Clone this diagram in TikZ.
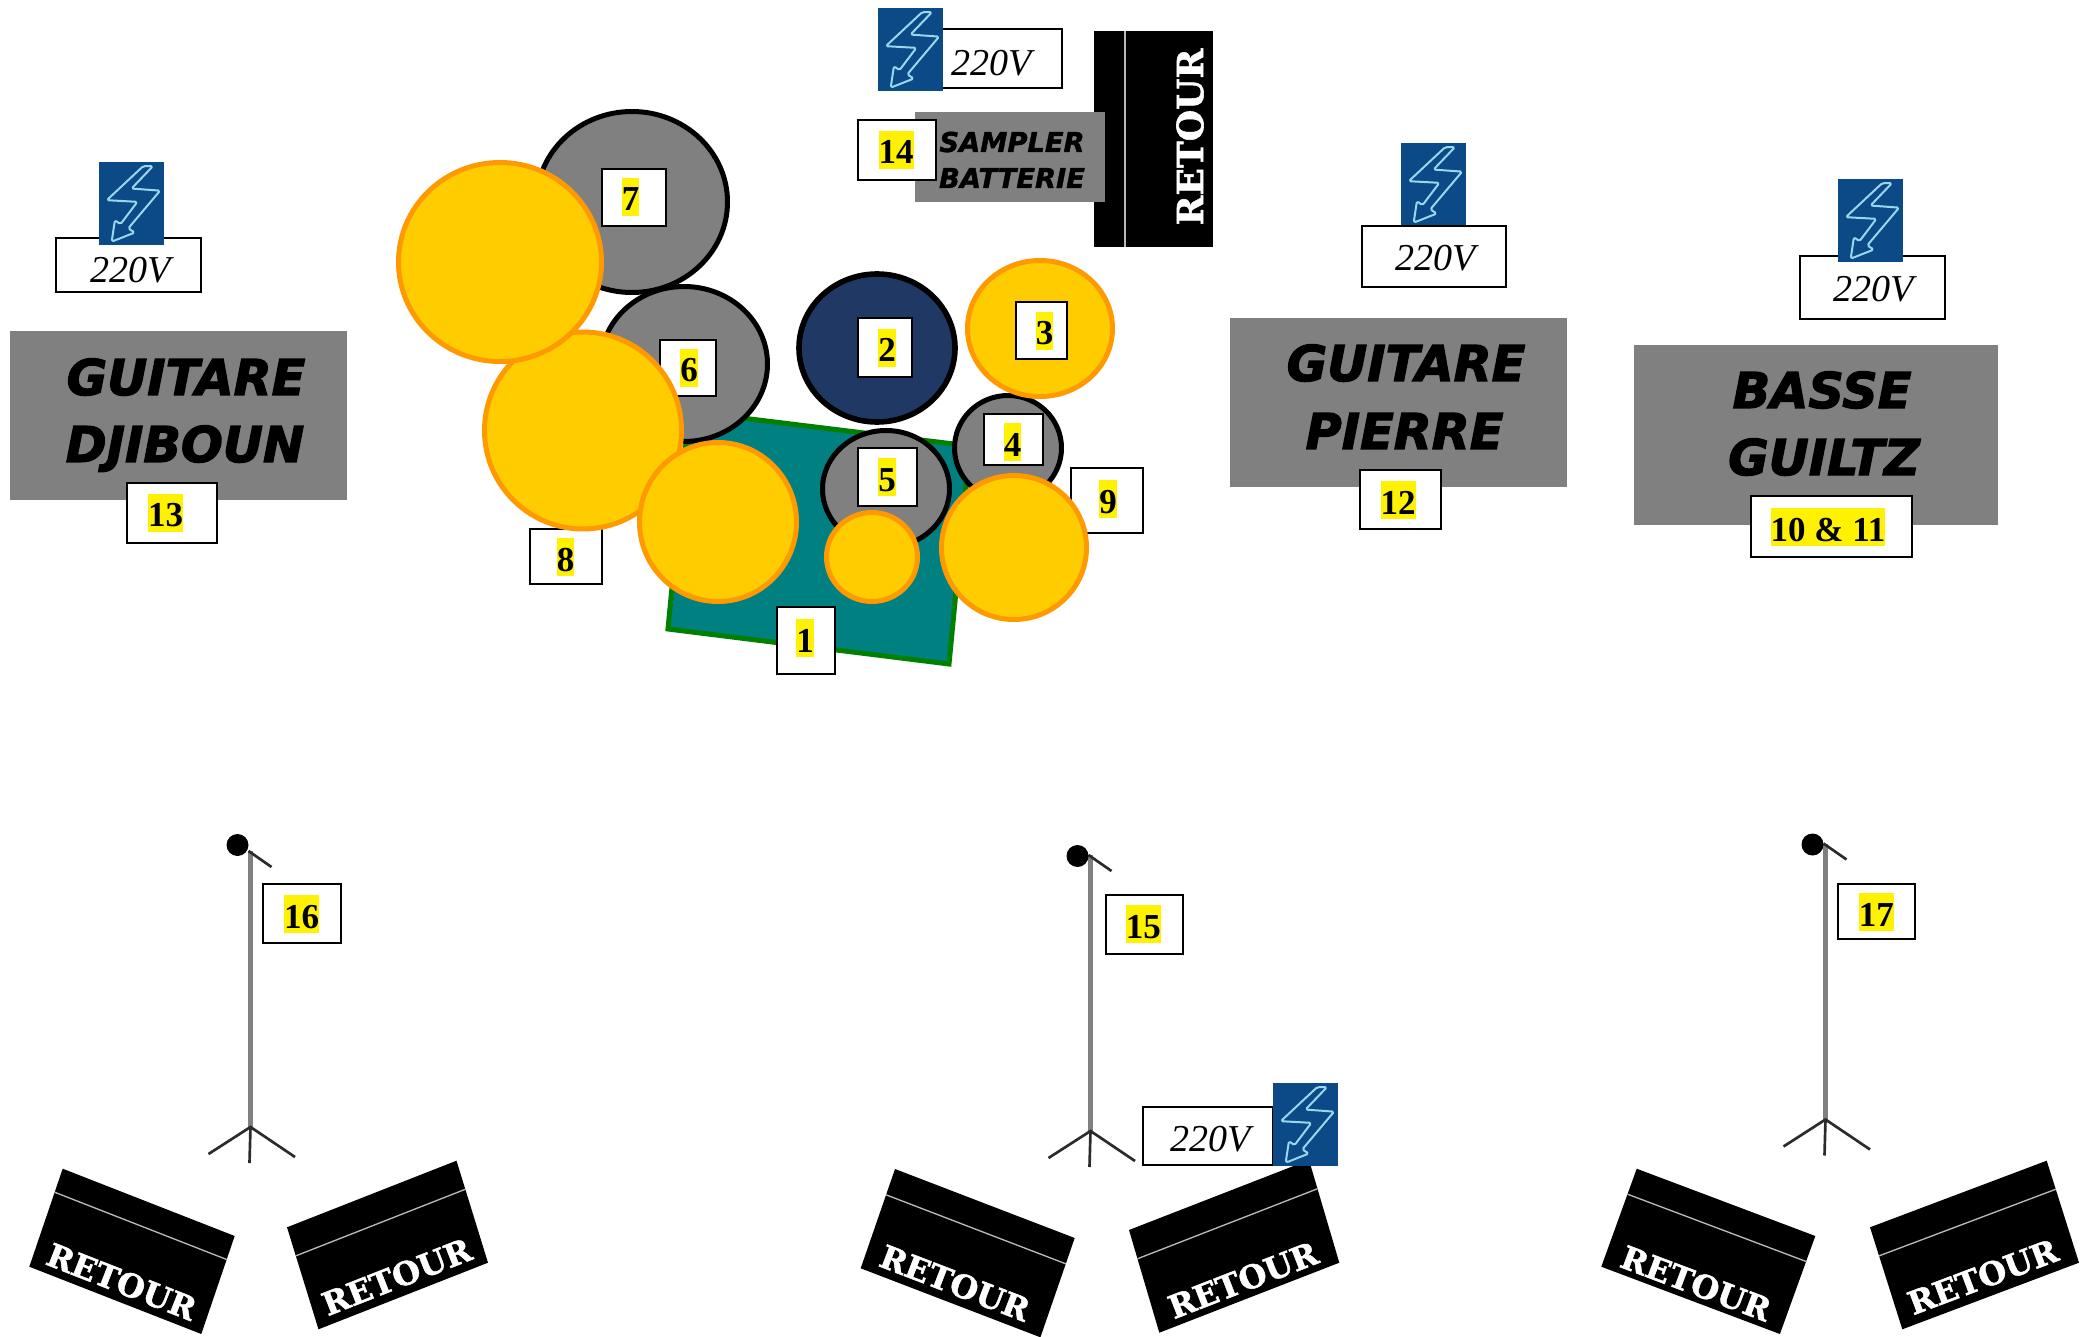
\documentclass[tikz,border=0pt]{standalone}
\usepackage{fontspec}
\usetikzlibrary{calc}
\setmainfont{Liberation Serif}
\newfontfamily\heavyfont[FakeBold=2.5]{DejaVu Sans}
\newfontfamily\smallheavyfont[FakeBold=1.5]{DejaVu Sans}
\newfontfamily\slabfont[FakeBold=1.5]{DejaVu Serif}
\definecolor{panelgray}{HTML}{808080}
\definecolor{boltblue}{HTML}{0B4A86}
\definecolor{boltline}{HTML}{9AD6EE}
\definecolor{cymbal}{HTML}{FFCC00}
\definecolor{cymbaledge}{HTML}{FF9900}
\definecolor{navydrum}{HTML}{1F3864}
\definecolor{rugteal}{HTML}{008080}
\definecolor{ruggreen}{HTML}{008000}
\definecolor{legdark}{HTML}{2B2B2B}
\tikzset{
  x=0.75pt,y=-0.75pt,
  drumgray/.style={fill=panelgray,draw=black,line width=3.75pt},
  drumnavy/.style={fill=navydrum,draw=black,line width=4.2pt},
  cymbalshape/.style={fill=cymbal,draw=cymbaledge,line width=3.75pt},
  labelbox/.style={draw=black,fill=white,line width=1.5pt,inner sep=0pt,outer sep=0pt,rectangle},
  numtext/.style={inner sep=0pt,outer sep=0pt,font=\fontsize{26.25}{28}\selectfont\bfseries},
  volt/.style={inner sep=0pt,outer sep=0pt,anchor=base,font=\fontsize{28.5}{30}\selectfont\itshape},
  panel/.style={fill=panelgray,draw=none,rectangle,inner sep=0pt,outer sep=0pt},
  bigname/.style={inner sep=0pt,outer sep=0pt,anchor=base,font=\heavyfont\fontsize{37}{40}\selectfont\bfseries\itshape},
  smallname/.style={inner sep=0pt,outer sep=0pt,anchor=base,font=\smallheavyfont\fontsize{20.5}{24}\selectfont\bfseries\itshape},
  slabword/.style={inner sep=0pt,outer sep=0pt,text=white,font=\slabfont\fontsize{24}{28}\selectfont\bfseries},
  standpole/.style={draw=panelgray,line width=4pt},
  standleg/.style={draw=legdark,line width=2pt},
  monitorline/.style={draw=gray!55,line width=1pt},
}
\newcommand{\hlnum}[1]{\fboxsep=0pt\colorbox{yellow}{\rule[-.14em]{0pt}{1.08em}#1}}
% id, x1, y1, x2, y2, text-x, text-y, text
\newcommand{\numbox}[8]{%
  \pgfmathsetmacro{\bw}{(#4-#2)*0.75}\pgfmathsetmacro{\bh}{(#5-#3)*0.75}%
  \node[labelbox,minimum width=\bw pt,minimum height=\bh pt] (box#1) at ({(#2+#4)/2},{(#3+#5)/2}) {};%
  \node[numtext] (num#1) at (#6,#7) {\hlnum{#8}};}
% id, x, y
\newcommand{\boltsign}[3]{%
  \begin{scope}[shift={(#2,#3)},x=48.75pt,y=-62.25pt]
    \fill[boltblue] (0,0) rectangle (1,1);
    \draw[boltline,line width=1.5pt,rounded corners=1.3pt,line join=round]
      (.68,.05) -- (.83,.05) -- (.50,.32) -- (.94,.345) -- (.45,.80) -- (.55,.85)
      -- (.195,.96) -- (.245,.70) -- (.33,.75) -- (.59,.48) -- (.12,.46) -- cycle;
  \end{scope}}
% TLx, TLy, TRx, TRy, BLx, BLy, line fraction, text x, text y
\newcount\monitorcount
\newcommand{\retourbox}[9]{%
  \global\advance\monitorcount by 1
  \pgfmathsetmacro{\rang}{-atan((#4-#2)/(#3-#1))}%
  \coordinate (tl\the\monitorcount) at (#1,#2);
  \coordinate (tr\the\monitorcount) at (#3,#4);
  \coordinate (bl\the\monitorcount) at (#5,#6);
  \coordinate (br\the\monitorcount) at ($(tr\the\monitorcount)+(bl\the\monitorcount)-(tl\the\monitorcount)$);
  \fill[black] (tl\the\monitorcount) -- (tr\the\monitorcount) -- (br\the\monitorcount) -- (bl\the\monitorcount) -- cycle;
  \draw[monitorline] ($(tl\the\monitorcount)!#7!(bl\the\monitorcount)$) -- ($(tr\the\monitorcount)!#7!(br\the\monitorcount)$);
  \node[slabword,rotate=\rang] (word\the\monitorcount) at (#8,#9) {RETOUR};}
% id, hub x, hub y, ball offset
\newcommand{\micstand}[4]{%
  \coordinate (hub#1) at (#2,#3);
  \coordinate (top#1) at ($(hub#1)+(0,-276)$);
  \coordinate (boom#1) at ($(hub#1)+(21,-260)$);
  \coordinate (legl#1) at ($(hub#1)+(-42,27)$);
  \coordinate (legr#1) at ($(hub#1)+(44.5,30)$);
  \coordinate (legm#1) at ($(hub#1)+(-1,36)$);
  \draw[standpole] (top#1) -- (hub#1);
  \draw[standleg] (legl#1) -- (hub#1) -- (legr#1);
  \draw[standleg] (hub#1) -- (legm#1);
  \draw[standleg] ($(top#1)+(-2,0)$) -- (boom#1);
  \node[circle,fill=black,inner sep=0pt,minimum size=16.5pt] (ball#1) at ($(hub#1)+(-13,#4)$) {};}
\begin{document}
\begin{tikzpicture}
\useasboundingbox (0,0) rectangle (2096,1337);
\fill[white] (0,0) rectangle (2096,1337);

% ---- rear monitor and sampler
\fill[black] (1094,31) rectangle (1213,247);
\draw[monitorline] (1125,31) -- (1125,247);
\node[slabword,rotate=90,font=\slabfont\fontsize{27}{30}\selectfont\bfseries] (rtop) at (1190,137) {RETOUR};
\node[labelbox,minimum width=99pt,minimum height=44.25pt] (voltbox1) at (996,58.5) {};
\node[volt] (volt1) at (992,76) {220V};
\boltsign{b1}{878}{8}
\node[panel,minimum width=142.5pt,minimum height=67.5pt] (sampler) at (1010,157) {};
\node[smallname] (sam1) at (1012,152) {SAMPLER};
\node[smallname] (sam2) at (1012,188) {BATTERIE};
\numbox{14}{858}{120}{936}{180}{896}{150}{14}

% ---- rug
\draw[fill=rugteal,draw=ruggreen,line width=3.75pt] (689,411.5) -- (970,446) -- (949,664) -- (668,629) -- cycle;

% ---- drum kit
\draw[drumgray] (632,202) ellipse [x radius=95.5,y radius=90.5];
\numbox{7}{601.5}{169}{666}{226}{630.6}{197}{7}
\draw[drumgray] (684,364) ellipse [x radius=83.5,y radius=77.5];
\numbox{6}{660}{340}{716}{396.5}{689}{368}{6}
\numbox{8}{530}{529}{602}{584}{565.6}{557}{8}
\numbox{9}{1071}{468}{1143}{533}{1108}{499}{9}
\draw[drumgray] (1008,448) ellipse [x radius=53.5,y radius=52.5];
\numbox{4}{984}{414.5}{1042.6}{465}{1012.6}{442}{4}
\draw[drumgray] (886,489) ellipse [x radius=63.5,y radius=58.5];
\numbox{5}{858}{448}{917}{506}{887}{477}{5}
\draw[drumnavy] (877,348) ellipse [x radius=78,y radius=74];
\numbox{2}{858}{318.5}{912}{377}{887}{348}{2}
\draw[cymbalshape] (1040,328.5) ellipse [x radius=72.5,y radius=68];
\numbox{3}{1015.5}{302}{1067}{359.5}{1044.6}{331}{3}
\draw[cymbalshape] (583,430.5) ellipse [x radius=98.5,y radius=98.5];
\draw[cymbalshape] (500,262) ellipse [x radius=101.5,y radius=99.5];
\draw[cymbalshape] (718,522) ellipse [x radius=78.5,y radius=79.5];
\draw[cymbalshape] (872,557) ellipse [x radius=45.5,y radius=44.5];
\draw[cymbalshape] (1014,547.5) ellipse [x radius=72.5,y radius=72];
\numbox{1}{776.5}{607}{835}{674}{805}{638}{1}

% ---- guitar Djiboun
\node[labelbox,minimum width=108.75pt,minimum height=40.5pt] (voltbox2) at (128.5,265) {};
\node[volt] (volt2) at (131,283) {220V};
\boltsign{b2}{99}{162}
\node[panel,minimum width=252.75pt,minimum height=126.75pt] (djpanel) at (178.5,415.5) {};
\node[bigname] (dj1) at (186,395) {GUITARE};
\node[bigname] (dj2) at (185,462) {DJIBOUN};
\numbox{13}{127}{483}{217}{543}{165.5}{513}{13}

% ---- guitar Pierre
\boltsign{b3}{1401}{143}
\node[labelbox,minimum width=108pt,minimum height=45.75pt] (voltbox3) at (1434,256.5) {};
\node[volt] (volt3) at (1435.5,271) {220V};
\node[panel,minimum width=252.75pt,minimum height=126.75pt] (pipanel) at (1398.5,402.5) {};
\node[bigname] (pi1) at (1406,381) {GUITARE};
\node[bigname] (pi2) at (1404.5,449) {PIERRE};
\numbox{12}{1360}{470}{1441}{529}{1398}{500}{12}

% ---- bass Guiltz
\node[labelbox,minimum width=108.75pt,minimum height=47.25pt] (voltbox4) at (1872.5,287.5) {};
\node[volt] (volt4) at (1874,302) {220V};
\boltsign{b4}{1838}{179}
\node[panel,minimum width=273pt,minimum height=135pt] (bapanel) at (1816,435) {};
\node[bigname] (ba1) at (1822,408) {BASSE};
\node[bigname] (ba2) at (1824,475) {GUILTZ};
\numbox{1011}{1751}{496}{1912}{557}{1828}{527}{10 \& 11}

% ---- microphone stands
\micstand{l}{250.5}{1127}{-282}
\numbox{16}{263}{884}{341.3}{942.7}{301.7}{914}{16}
\micstand{c}{1090.5}{1131}{-275}
\numbox{15}{1105.7}{894.7}{1183.3}{954.3}{1143.3}{924}{15}
\micstand{r}{1825.5}{1119.5}{-275}
\numbox{17}{1837.7}{884}{1915}{939.3}{1876.3}{912}{17}

% ---- floor monitors
\retourbox{62.7}{1168.7}{234.7}{1236}{29.3}{1266.7}{.24}{121.7}{1281.7}
\retourbox{287}{1227.3}{456.5}{1160.7}{318.5}{1329.3}{.28}{396.7}{1276.7}
\retourbox{895}{1169}{1074.7}{1238}{860.7}{1268.3}{.26}{955}{1283}
\retourbox{1129}{1230}{1309}{1160}{1159.3}{1332.7}{.28}{1243}{1280}
\retourbox{1636.7}{1168.7}{1815.3}{1236}{1601.3}{1266.7}{.26}{1696}{1283.3}
\retourbox{1870}{1227.3}{2046.7}{1160.7}{1902.3}{1329.3}{.28}{1982.7}{1276.7}

% ---- centre power label
\node[labelbox,minimum width=97.5pt,minimum height=43.5pt] (voltbox5) at (1208,1136) {};
\node[volt] (volt5) at (1211,1151) {220V};
\boltsign{b5}{1273}{1083}
\end{tikzpicture}
\end{document}
